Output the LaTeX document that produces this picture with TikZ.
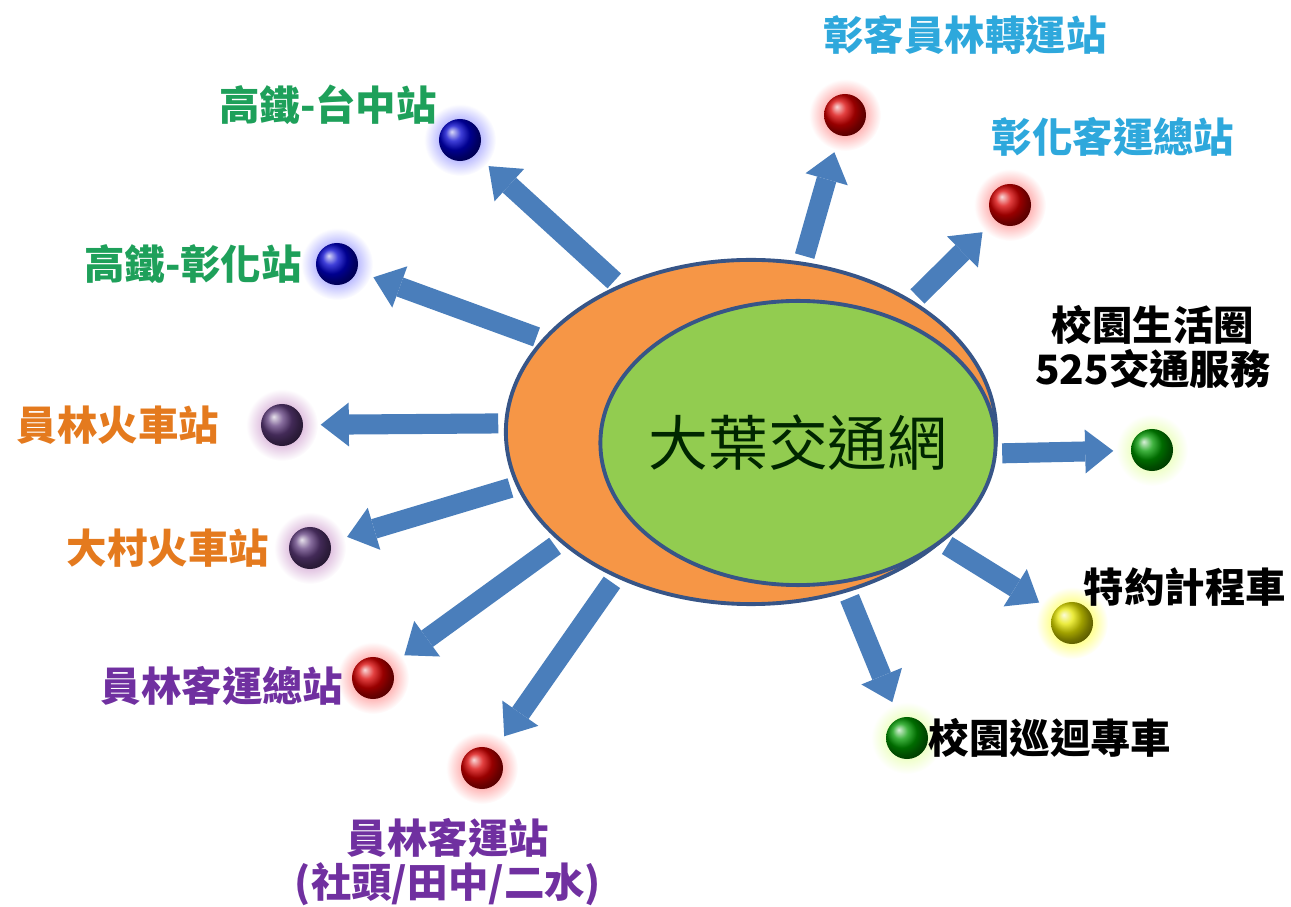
\documentclass[tikz,border=0pt]{standalone}
\usepackage{fontspec}
\setmainfont{Noto Sans CJK TC}
\usetikzlibrary{shapes.geometric,arrows.meta,backgrounds}

\definecolor{ringorange}{RGB}{246,150,70}
\definecolor{coregreen}{RGB}{146,204,80}
\definecolor{rimblue}{RGB}{55,85,135}
\definecolor{arrowblue}{RGB}{74,126,187}
\definecolor{hsrgreen}{RGB}{30,160,90}
\definecolor{trainorange}{RGB}{228,122,30}
\definecolor{buspurple}{RGB}{112,48,160}
\definecolor{skyblue}{RGB}{46,168,220}
\definecolor{ballpurple}{RGB}{95,60,125}

\tikzset{
  station/.style={circle, minimum size=0.42cm, inner sep=0pt, shade, ball color=#1},
  lbl/.style={font=\fontsize{11.5pt}{12.6pt}\selectfont\bfseries, text=#1, inner sep=0pt, align=center},
  blockarrow/.style={draw=arrowblue, line width=5.7pt,
    -{Triangle[width=12.5pt,length=8pt,line width=0pt]}, shorten <=0.06cm, shorten >=0.17cm},
}

\begin{document}
\begin{tikzpicture}[x=0.01cm, y=-0.01cm]
  \useasboundingbox (0,0) rectangle (1291,907);

  % Draw the two ellipses
  \node[ellipse, draw=rimblue, line width=1.1pt, fill=ringorange, minimum width=4.9cm, minimum height=3.44cm, inner sep=0pt] (ring) at (751,432) {};
  \node[ellipse, draw=rimblue, line width=1.1pt, fill=coregreen, minimum width=3.95cm, minimum height=2.84cm, inner sep=0pt] (core) at (798,443) {};
  \node[font=\fontsize{17pt}{20pt}\selectfont, text=black!85!green, inner sep=0pt] (title) at (core) {大葉交通網};

  % Draw the stations
  \node[station=blue!80!black] (tz) at (460,140) {};
  \node[station=blue!80!black] (hc) at (337,264) {};
  \node[station=ballpurple] (ylt) at (282,425) {};
  \node[station=ballpurple] (dc) at (310,548) {};
  \node[station=red!85!black] (ylb) at (373,678) {};
  \node[station=red!85!black] (ylk) at (482,768) {};
  \node[station=red!85!black] (zkyl) at (845,115) {};
  \node[station=red!85!black] (zhk) at (1010,205) {};
  \node[station=green!60!black] (cmp) at (1152,450) {};
  \node[station=yellow!90!black] (taxi) at (1072,623) {};
  \node[station=green!60!black] (shuttle) at (907,738) {};

  % Glow around the stations
  \begin{scope}[on background layer]
    \foreach \n/\c in {tz/blue!60, hc/blue!60, ylt/violet!55, dc/violet!55, ylb/red!65, ylk/red!65,
                       zkyl/red!65, zhk/red!65, cmp/yellow!70!green!50, taxi/yellow, shuttle/yellow!70!green!50}
      \shade[inner color=\c, outer color=white] (\n) circle (0.36cm);
  \end{scope}

  % Draw the labels
  \node[lbl=hsrgreen] (tzlbl) at (328,105) {高鐵-台中站};
  \node[lbl=hsrgreen] (hclbl) at (193,264) {高鐵-彰化站};
  \node[lbl=trainorange] (yltlbl) at (118,425) {員林火車站};
  \node[lbl=trainorange] (dclbl) at (168,548) {大村火車站};
  \node[lbl=buspurple] (ylblbl) at (222,686) {員林客運總站};
  \node[lbl=buspurple] (ylklbl) at (448,862) {員林客運站\\(社頭/田中/二水)};
  \node[lbl=skyblue] (zkyllbl) at (965,35) {彰客員林轉運站};
  \node[lbl=skyblue] (zhklbl) at (1113,137) {彰化客運總站};
  \node[lbl=black] (cmplbl) at (1153,347) {校園生活圈\\525交通服務};
  \node[lbl=black] (taxilbl) at (1185,587) {特約計程車};
  \node[lbl=black] (shuttlelbl) at (1050,738) {校園巡迴專車};

  % Draw the arrows
  \foreach \a/\n in {132/tz, 156/hc, 178/ylt, 193/dc, 210/ylb, 227/ylk,
                     73/zkyl, 39/zhk, 355/cmp, 330/taxi, 301/shuttle}
    \draw[blockarrow] (ring.\a) -- (\n);
\end{tikzpicture}
\end{document}
